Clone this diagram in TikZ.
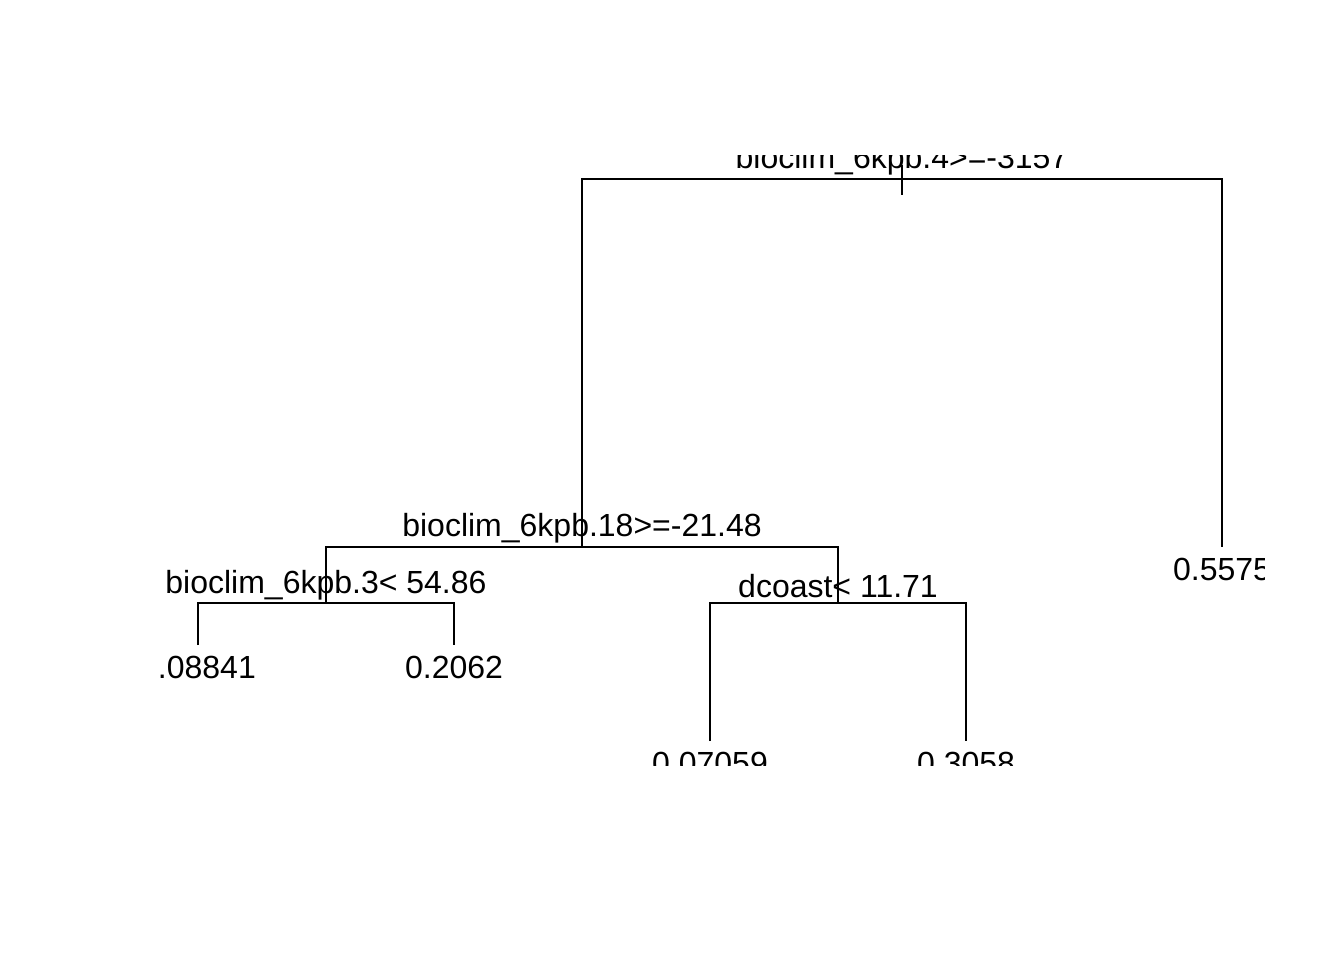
\documentclass[tikz,border=0pt]{standalone}
\usepackage{fontspec}
\setmainfont{Liberation Sans}
\begin{document}
\begin{tikzpicture}[x=1pt,y=-1pt,
  edge/.style={draw=black,line width=2pt},
  lbl/.style={inner sep=0pt,anchor=base,font=\fontsize{32}{38}\selectfont}]
\useasboundingbox (0,0) rectangle (1344,960);
\begin{scope}
\clip (158,155.5) rectangle (1264,765);
% tree coordinates
\coordinate (root) at (902,179);
\coordinate (rootL) at (582,179);
\coordinate (rootR) at (1222,179);
\coordinate (tickT) at (902,165);
\coordinate (tickB) at (902,195);
\coordinate (n2) at (582,547);
\coordinate (n2L) at (326,547);
\coordinate (n2R) at (838,547);
\coordinate (n3) at (1222,547);
\coordinate (n4) at (326,603);
\coordinate (n4L) at (198,603);
\coordinate (n4R) at (454,603);
\coordinate (n5) at (838,603);
\coordinate (n5L) at (710,603);
\coordinate (n5R) at (966,603);
\coordinate (l8) at (198,645);
\coordinate (l9) at (454,645);
\coordinate (l10) at (710,741);
\coordinate (l11) at (966,741);
% connectors
\draw[edge] (tickT) -- (tickB);
\draw[edge] (n2) -- (rootL) -- (rootR) -- (n3);
\draw[edge] (n4) -- (n2L) -- (n2R) -- (n5);
\draw[edge] (l8) -- (n4L) -- (n4R) -- (l9);
\draw[edge] (l10) -- (n5L) -- (n5R) -- (l11);
% labels
\node[lbl] (troot) at (902,169) {bioclim\_6kpb.4>=-3157};
\node[lbl] (tn2) at (582,536) {bioclim\_6kpb.18>=-21.48};
\node[lbl] (tn4) at (326,593) {bioclim\_6kpb.3< 54.86};
\node[lbl] (tn5) at (838,597) {dcoast< 11.71};
\node[lbl] (tn3) at (1222,580) {0.5575};
\node[lbl] (tl8) at (198,678) {0.08841};
\node[lbl] (tl9) at (454,678) {0.2062};
\node[lbl] (tl10) at (710,774) {0.07059};
\node[lbl] (tl11) at (966,774) {0.3058};
\end{scope}
\end{tikzpicture}
\end{document}
